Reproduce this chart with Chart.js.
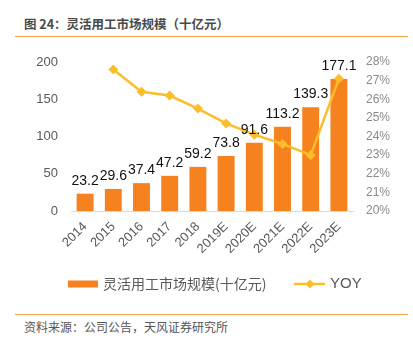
<!DOCTYPE html>
<html>
<head>
<meta charset="utf-8">
<script src="https://cdn.jsdelivr.net/npm/chart.js@4/dist/chart.umd.min.js"></script>
<style>
  body { margin: 0; background: #fff; width: 413px; height: 350px; position: relative; overflow: hidden;
         font-family: "Liberation Sans", "Noto Sans CJK SC", sans-serif; }
  #title { position: absolute; left: 24px; top: 15px; font-size: 12.5px; font-weight: bold; color: #4a4a4a;
           font-family: "Noto Sans CJK SC", sans-serif; line-height: 18px; white-space: nowrap; }
  .rule { position: absolute; left: 15px; width: 393px; height: 1px; background: #f7a04b; }
  #source { position: absolute; left: 24px; top: 318px; font-size: 12px; color: #555;
            font-family: "Noto Sans CJK SC", sans-serif; line-height: 18px; white-space: nowrap; }
  #wrap { position: absolute; left: 0; top: 40px; width: 413px; height: 270px; }
</style>
</head>
<body>
<div id="title">图 24：灵活用工市场规模（十亿元）</div>
<div class="rule" style="top:36px"></div>
<div id="wrap"><canvas id="marketChart"></canvas></div>
<div class="rule" style="top:314px"></div>
<div id="source">资料来源：公司公告，天风证券研究所</div>
<script>
const years = ['2014', '2015', '2016', '2017', '2018', '2019E', '2020E', '2021E', '2022E', '2023E'];
const marketSize = [23.2, 29.6, 37.4, 47.2, 59.2, 73.8, 91.6, 113.2, 139.3, 177.1];
const yoy = [null, 27.6, 26.4, 26.2, 25.5, 24.7, 24.1, 23.6, 23.0, 27.1];
const sizeLabel = '灵活用工市场规模(十亿元)';
const yoyLabel = 'YOY';

const barColor = '#f5821f';
const lineColor = '#fbbd2b';
const numFont = '"Liberation Sans", Arial, sans-serif';

// value labels above the bars
const barValues = {
  id: 'barValues',
  afterDatasetsDraw(chart) {
    const ctx = chart.ctx;
    const meta = chart.getDatasetMeta(0);
    ctx.save();
    ctx.font = '14px ' + numFont;
    ctx.fillStyle = '#111';
    ctx.textAlign = 'center';
    ctx.textBaseline = 'alphabetic';
    meta.data.forEach((bar, i) => {
      ctx.fillText(marketSize[i].toFixed(1), bar.x, bar.y - 9);
    });
    ctx.restore();
  },
};

// legend drawn by hand, two entries centred under the plot
const customLegend = {
  id: 'customLegend',
  afterDraw(chart) {
    const ctx = chart.ctx;
    const y = 244;
    ctx.save();
    ctx.fillStyle = barColor;
    ctx.fillRect(68, y - 3.5, 30, 7);
    ctx.font = '14px "Noto Sans CJK SC", sans-serif';
    ctx.fillStyle = '#595959';
    ctx.textBaseline = 'middle';
    ctx.fillText(sizeLabel, 103, y);

    ctx.strokeStyle = lineColor;
    ctx.lineWidth = 2.5;
    ctx.beginPath();
    ctx.moveTo(294, y);
    ctx.lineTo(325, y);
    ctx.stroke();
    ctx.fillStyle = lineColor;
    ctx.beginPath();
    ctx.moveTo(310, y - 4.5);
    ctx.lineTo(314.5, y);
    ctx.lineTo(310, y + 4.5);
    ctx.lineTo(305.5, y);
    ctx.closePath();
    ctx.fill();
    ctx.font = '15px ' + numFont;
    ctx.fillStyle = '#595959';
    ctx.fillText(yoyLabel, 330, y);
    ctx.restore();
  },
};

const ctx = document.getElementById('marketChart').getContext('2d');
new Chart(ctx, {
  data: {
    labels: years,
    datasets: [
      {
        type: 'bar',
        label: sizeLabel,
        data: marketSize,
        backgroundColor: barColor,
        categoryPercentage: 1,
        barPercentage: 0.6,
        yAxisID: 'y',
        order: 1,
      },
      {
        type: 'line',
        label: yoyLabel,
        data: yoy,
        borderColor: lineColor,
        backgroundColor: lineColor,
        borderWidth: 2.5,
        pointStyle: 'rectRot',
        pointRadius: 5,
        pointBackgroundColor: lineColor,
        pointBorderWidth: 0,
        tension: 0,
        yAxisID: 'y1',
        order: 0,
      },
    ],
  },
  options: {
    responsive: true,
    maintainAspectRatio: false,
    animation: false,
    layout: { padding: { top: 22, left: 0, right: 0, bottom: 0 } },
    plugins: { legend: { display: false }, tooltip: { enabled: false } },
    scales: {
      x: {
        grid: { display: false, drawTicks: false },
        border: { color: '#d9d9d9', width: 1 },
        ticks: {
          color: '#595959', font: { size: 13, family: numFont },
          minRotation: 45, maxRotation: 45, padding: 8, autoSkip: false,
        },
        afterFit(scale) { scale.height = 99; },
      },
      y: {
        position: 'left',
        min: 0, max: 200,
        grid: { display: false, drawTicks: false },
        border: { display: false },
        ticks: { stepSize: 50, color: '#595959', font: { size: 13, family: numFont }, padding: 13 },
        afterFit(scale) { scale.width = 71; },
      },
      y1: {
        position: 'right',
        min: 20, max: 28,
        grid: { display: false, drawTicks: false },
        border: { display: false },
        ticks: {
          stepSize: 1, color: '#8a8a8a', font: { size: 12, family: numFont }, padding: 13,
          callback: v => v + '%',
        },
        afterFit(scale) { scale.width = 60; },
      },
    },
  },
  plugins: [barValues, customLegend],
});
</script>
</body>
</html>
